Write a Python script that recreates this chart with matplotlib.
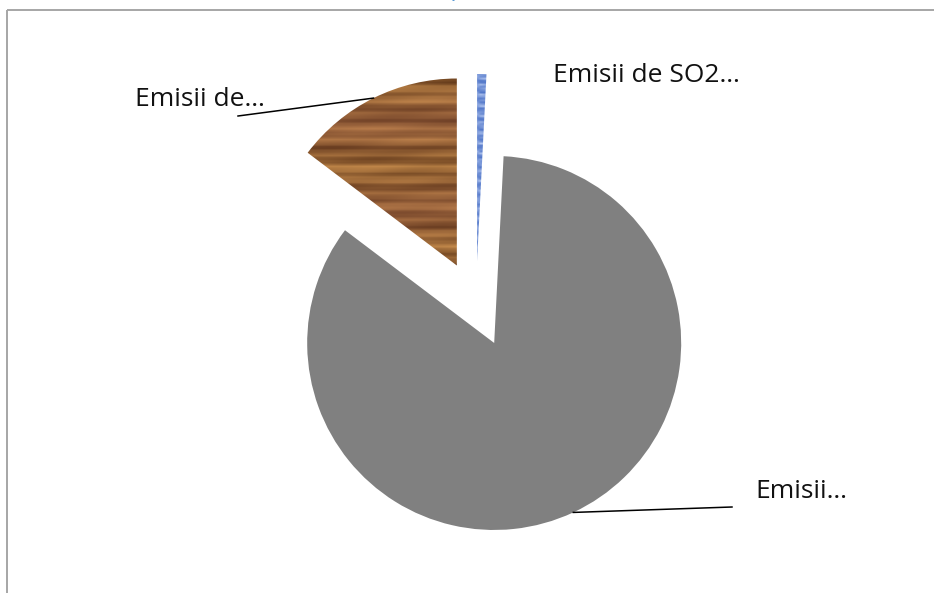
import numpy as np
import matplotlib.pyplot as plt

# emission shares (approximate)
labels = ["Emisii de SO2…", "Emisii…", "Emisii de…"]
shares = [0.8, 84.5, 14.7]
label_px = [(553, 75), (755, 492), (135, 100)]   # left/centre of label text, in pixels
leader_px = [None, (732, 507), (238, 116)]       # outer end of leader line

W, H = 934, 593
CX, CY, R = 476, 304, 187   # pie centre and radius in pixels (from top-left)


def px(x, y):
    return (x - CX) / R, (CY - y) / R


def wood(h=220, w=220):
    yy, xx = np.mgrid[0:h, 0:w].astype(float)
    t = (0.5 + 0.22 * np.sin(yy * 0.85) + 0.14 * np.sin(yy * 0.31 + 1.3)
         + 0.09 * np.sin(yy * 2.1 + 0.4) + 0.06 * np.sin(xx * 0.05 + yy * 0.23)
         + 0.05 * np.sin(xx * 0.11 - yy * 0.57))
    t = np.clip(t, 0, 1)[..., None]
    dark = np.array([0.38, 0.22, 0.10])
    light = np.array([0.78, 0.55, 0.30])
    img = dark + (light - dark) * t
    red = (0.5 + 0.5 * np.sin(yy * 0.13 + 2.0 + 0.3 * np.sin(xx * 0.03)))[..., None] * 0.25
    img = img * (1 - red) + np.array([0.55, 0.30, 0.28]) * red
    return np.clip(img, 0, 1)


def speckle(h=200, w=60):
    yy, xx = np.mgrid[0:h, 0:w].astype(float)
    t = np.sin(xx * 1.7) * np.sin(yy * 2.3) + 0.6 * np.sin(xx * 0.9 + yy * 1.3)
    t = np.clip((t + 1.6) / 3.2, 0, 1)[..., None]
    base = np.array([0.30, 0.45, 0.78])
    return np.clip(base + (np.array([0.85, 0.90, 1.0]) - base) * t ** 2, 0, 1)


fig = plt.figure(figsize=(W / 100, H / 100), dpi=100)
ax = fig.add_axes([0, 0, 1, 1])

wedges, _ = ax.pie(shares, explode=[0.23] * 3, startangle=90, counterclock=False,
                   radius=1, center=(0, 0),
                   colors=["#4f6fb0", "#808080", "#9a6a3a"],
                   wedgeprops=dict(linewidth=0))

x0, y0 = px(0, H)
x1, y1 = px(W, 0)

# textured fills for the blue and brown slices
for wdg, tex in ((wedges[0], speckle()), (wedges[2], wood())):
    cx, cy = wdg.center
    im = ax.imshow(tex, extent=(cx - 1.05, cx + 1.05, cy - 1.05, cy + 1.05),
                   origin="lower", interpolation="bilinear", zorder=2)
    im.set_clip_path(wdg)
    wdg.set_facecolor("none")

ax.set_xlim(x0, x1)
ax.set_ylim(y0, y1)
ax.set_aspect("equal")
ax.axis("off")

font = ["Open Sans", "DejaVu Sans"]
for lab, (lx, ly), lead, wdg in zip(labels, label_px, leader_px, wedges):
    ax.text(*px(lx, ly), lab, ha="left", va="center", fontsize=19,
            family=font, color="#111111")
    if lead is not None:
        th = np.deg2rad((wdg.theta1 + wdg.theta2) / 2)
        sx = wdg.center[0] + wdg.r * np.cos(th)
        sy = wdg.center[1] + wdg.r * np.sin(th)
        ex, ey = px(*lead)
        ax.plot([sx, ex], [sy, ey], color="black", linewidth=1.1, zorder=3)

# chart title, mostly cut off above the top edge
ax.text(*px(453, -11), "(tone pe an)", ha="center", va="center", fontsize=17,
        family=font, color="#5b9bd5", clip_on=False)

# chart area border (only top and left edges fall inside the picture)
lx, ty = px(7, 10)
rx, _ = px(W + 30, 0)
ax.plot([lx, rx], [ty, ty], color="#a6a6a6", linewidth=1.4, clip_on=True,
        solid_capstyle="butt")
ax.plot([lx, lx], [ty, y0 - 0.2], color="#a6a6a6", linewidth=1.4, clip_on=True,
        solid_capstyle="butt")

fig.savefig("out.png", dpi=100)
